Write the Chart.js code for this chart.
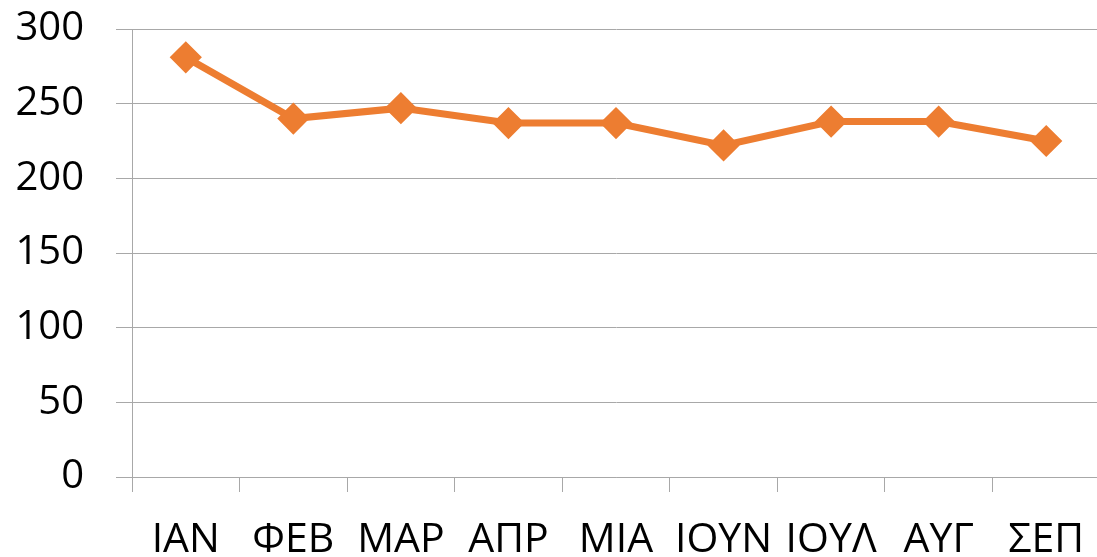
<!DOCTYPE html>
<html>
<head>
<meta charset="utf-8">
<script src="https://cdn.jsdelivr.net/npm/chart.js@4"></script>
<style>
  html, body { margin: 0; padding: 0; background: #fff; overflow: hidden; }
</style>
</head>
<body>
<canvas id="chart" width="1117" height="557"></canvas>
<script>
// Μήνες και τιμές
const months = ['ΙΑΝ', 'ΦΕΒ', 'ΜΑΡ', 'ΑΠΡ', 'ΜΙΑ', 'ΙΟΥΝ', 'ΙΟΥΛ', 'ΑΥΓ', 'ΣΕΠ'];
const values = [281, 240, 247, 237, 237, 222, 238, 238, 225];
const yTicks = [0, 50, 100, 150, 200, 250, 300];

const gridGray = '#A8A8A8';
const orange = '#ED7D31';

new Chart(document.getElementById('chart'), {
  type: 'line',
  data: {
    labels: months,
    datasets: [{
      data: values,
      borderColor: orange,
      backgroundColor: orange,
      borderWidth: 7,
      pointStyle: 'rectRot',
      pointRadius: 14,
      pointBorderWidth: 3,
      pointBorderColor: orange,
      pointBackgroundColor: orange,
      tension: 0
    }]
  },
  options: {
    responsive: false,
    animation: false,
    layout: { padding: { top: 29, right: 1, left: 0, bottom: 0 } },
    plugins: { legend: { display: false }, tooltip: { enabled: false } },
    scales: {
      x: {
        offset: true,
        grid: { offset: true, drawOnChartArea: false, drawTicks: true, tickLength: 15, color: gridGray, lineWidth: 1 },
        border: { display: true, color: gridGray, width: 1 },
        ticks: { color: '#000', font: { family: 'Open Sans', size: 41 }, padding: 24, maxRotation: 0, autoSkip: false },
        afterFit: (axis) => { axis.height = 80; axis.paddingLeft = 0; axis.paddingRight = 0; }
      },
      y: {
        min: 0,
        max: 300,
        afterBuildTicks: (axis) => { axis.ticks = yTicks.map(v => ({ value: v })); },
        grid: { color: gridGray, lineWidth: 1, tickLength: 16 },
        border: { display: true, color: gridGray, width: 1 },
        ticks: { color: '#000', font: { family: 'Open Sans', size: 40 }, padding: 32 },
        afterFit: (axis) => { axis.width = 132; axis.paddingTop = 0; axis.paddingBottom = 0; }
      }
    }
  }
});
</script>
</body>
</html>
